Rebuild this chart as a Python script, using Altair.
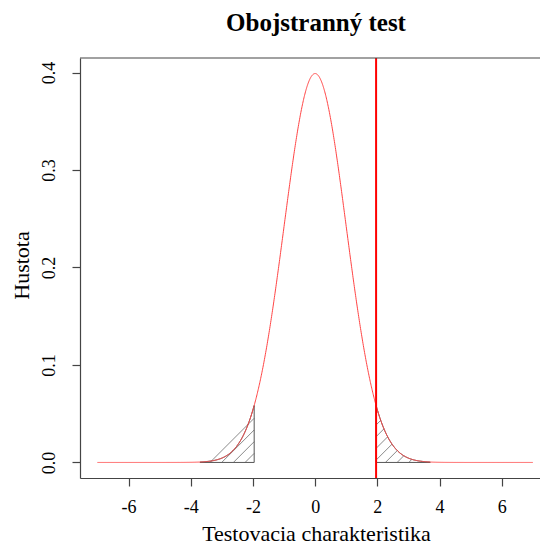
import altair as alt
import numpy as np
import pandas as pd

# ---------------- values ----------------
x_start, x_end = -7.0, 7.0          # range of the density curve
crit_value = 1.96                    # critical value (vertical red line)
tail_limit = 3.7                     # outer end of the shaded tails
x_ticks = [-6, -4, -2, 0, 2, 4, 6]
y_ticks = [0.0, 0.1, 0.2, 0.3, 0.4]
title_text = "Obojstranný test"
x_label = "Testovacia charakteristika"
y_label = "Hustota"
hatch_spacing = 0.376                # baseline distance between hatch lines (x units)
hatch_phase = 2.26                   # one hatch line meets the baseline here

# ---------------- layout ----------------
W, H = 460, 420
x_dom = [-7.56, 7.23]
y_dom = [-0.01596, 0.41489]
FONT = "Liberation Serif"


def dnorm(x):
    return np.exp(-x ** 2 / 2) / np.sqrt(2 * np.pi)


xs = np.round(np.linspace(x_start, x_end, 1401), 4)
curve = pd.DataFrame({"x": xs, "y": dnorm(xs)})

# polygon borders of the two tails
regions = [(-tail_limit, -crit_value), (crit_value, tail_limit)]
poly_rows = []
for r, (a, b) in enumerate(regions):
    px = np.linspace(a, b, 120)
    pts = [(v, dnorm(v)) for v in px] + [(b, 0.0), (a, 0.0), (a, dnorm(a))]
    for i, (vx, vy) in enumerate(pts):
        poly_rows.append({"x": vx, "y": vy, "reg": r, "ord": i})
poly = pd.DataFrame(poly_rows)

# 45-degree hatch lines (in screen space) clipped to the tails
slope = (W / (x_dom[1] - x_dom[0])) / (H / (y_dom[1] - y_dom[0]))
hatch_rows = []
for (a, b) in regions:
    xx = np.linspace(a, b, 6001)
    fx = dnorm(xx)
    for k in range(-60, 60):
        x0 = hatch_phase + k * hatch_spacing
        yl = (xx - x0) * slope
        inside = (yl >= 0) & (yl <= fx)
        idx = np.where(inside)[0]
        if len(idx) < 3:
            continue
        i1, i2 = idx[0], idx[-1]
        hatch_rows.append({"x": xx[i1], "y": yl[i1], "x2": xx[i2], "y2": yl[i2]})
hatch = pd.DataFrame(hatch_rows)

crit = pd.DataFrame({"x": [crit_value]})
title_df = pd.DataFrame({"t": [title_text]})

# ---------------- encodings ----------------
x_enc = alt.X(
    "x:Q",
    scale=alt.Scale(domain=x_dom, nice=False, zero=False),
    axis=alt.Axis(
        values=x_ticks,
        labelExpr="'' + datum.value",
        title=x_label,
        titleX=236,
        titleY=62,
        titleAlign="center",
        titleBaseline="alphabetic",
        labelBaseline="alphabetic",
        labelPadding=26,
        grid=False,
    ),
)
y_enc = alt.Y(
    "y:Q",
    scale=alt.Scale(domain=y_dom, nice=False, zero=False),
    axis=alt.Axis(
        values=y_ticks,
        format=".1f",
        title=y_label,
        titleX=-52,
        titleY=207,
        titleAngle=270,
        titleAlign="center",
        titleBaseline="alphabetic",
        labelAngle=270,
        labelAlign="center",
        labelBaseline="alphabetic",
        labelPadding=18,
        grid=False,
    ),
)

hatch_layer = alt.Chart(hatch).mark_rule(color="#8a8a8a", strokeWidth=1).encode(
    x=x_enc, y=y_enc, x2="x2:Q", y2="y2:Q"
)

poly_layer = alt.Chart(poly).mark_line(color="#555555", strokeWidth=1).encode(
    x=x_enc, y=y_enc, detail="reg:N", order="ord:Q"
)

curve_layer = alt.Chart(curve).mark_line(color="#ff4444", strokeWidth=1).encode(
    x=x_enc, y=y_enc
)

crit_layer = alt.Chart(crit).mark_rule(color="#ff0000", strokeWidth=2).encode(
    x=x_enc
)

frame_top = alt.Chart(crit).mark_rule(color="#444444", strokeWidth=1.2).encode(
    x=alt.value(0), x2=alt.value(W), y=alt.value(0)
)

title_layer = alt.Chart(title_df).mark_text(
    font=FONT,
    fontSize=25,
    fontWeight="bold",
    color="black",
    align="center",
    baseline="alphabetic",
).encode(x=alt.value(236), y=alt.value(-27), text="t:N")

chart = (
    alt.layer(hatch_layer, poly_layer, curve_layer, crit_layer, frame_top, title_layer)
    .properties(
        width=W,
        height=H,
        background="white",
        autosize=alt.AutoSizeParams(type="none"),
        padding={"left": 80, "top": 58, "right": 0, "bottom": 66},
    )
    .configure_view(stroke=None)
    .configure_axis(
        labelFont=FONT,
        labelFontSize=18,
        labelColor="black",
        titleFont=FONT,
        titleFontSize=22,
        titleFontWeight="normal",
        titleColor="black",
        tickColor="#444444",
        tickSize=8,
        tickWidth=1.2,
        domainColor="#444444",
        domainWidth=1.2,
    )
)

chart.save("out.html", embed_options={"renderer": "svg", "actions": False})
